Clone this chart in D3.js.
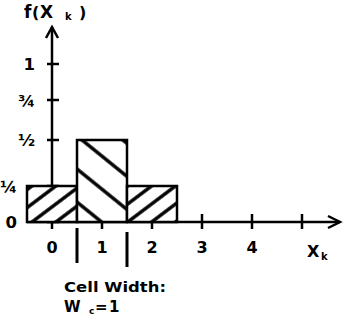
<!DOCTYPE html>
<html>
<head>
<meta charset="utf-8">
<script src="https://cdn.jsdelivr.net/npm/d3@7"></script>
<style>
  html, body { margin: 0; padding: 0; background: #fff; }
  svg { display: block; }
  text { font-family: "DejaVu Sans", Arial, sans-serif; font-weight: bold; fill: #000; }
</style>
</head>
<body>
<svg id="chart" width="345" height="317"></svg>
<script>
// 셀 확률 — 막대 3개(폭 1), 해칭 방향
var cells = [0, 1, 2];
var probs = [0.25, 0.5, 0.25];
var hatch = ["fwd", "back", "fwd"];
var cellWidth = 1;
var cellEdges = [0.5, 1.5];
// 눈금
var xTicks = [0, 1, 2, 3, 4, 5];
var xTickLabels = ["0", "1", "2", "3", "4", ""];
var yTicks = [0, 0.25, 0.5, 0.75, 1];
var yTickLabels = ["0", "\u00bc", "\u00bd", "\u00be", "1"];

(function () {
  "use strict";
  var svg = d3.select("#chart");
  var STROKE = 2.5;

  var x = d3.scaleLinear().domain([0, 5]).range([52, 302]);
  // 손으로 그린 세로축 간격을 그대로 따름(구간별 선형)
  var y = d3.scaleLinear().domain(yTicks).range([222, 186, 140, 100, 64]);

  var defs = svg.append("defs");
  function makePattern(id, angle, spacing, ax, ay) {
    var p = defs.append("pattern").attr("id", id)
      .attr("patternUnits", "userSpaceOnUse")
      .attr("width", spacing).attr("height", spacing)
      .attr("patternTransform", "translate(" + ax + "," + ay + ") rotate(" + angle + ")");
    p.append("rect").attr("width", spacing).attr("height", spacing).attr("fill", "#fff");
    [0, spacing].forEach(function (xx) {
      p.append("line").attr("x1", xx).attr("x2", xx).attr("y1", 0).attr("y2", spacing)
        .attr("stroke", "#000").attr("stroke-width", 3.4);
    });
  }
  makePattern("fwd", 53, 14.4, x(-cellWidth / 2) + 5, y(0));
  makePattern("back", -51, 25.7, x(cellWidth / 2), y(0) - 53);

  var x0 = x(0), y0 = y(0);
  var xLeft = x(-cellWidth / 2), xTip = x(5) + 38, yTip = y(1) - 37;

  // 축
  var axes = svg.append("g").attr("stroke", "#000").attr("stroke-width", STROKE).attr("fill", "none");
  axes.append("line").attr("x1", x0).attr("x2", x0).attr("y1", y0).attr("y2", yTip);
  axes.append("polyline").attr("points", [[x0 - 6, yTip + 11], [x0, yTip], [x0 + 6, yTip + 11]].join(" "));
  axes.append("line").attr("x1", xLeft).attr("x2", xTip).attr("y1", y0).attr("y2", y0);
  axes.append("polyline").attr("points", [[xTip - 12, y0 - 6], [xTip, y0], [xTip - 12, y0 + 6]].join(" "));

  // 눈금 표시(축을 가로지름)
  axes.selectAll("line.yt").data(yTicks).enter().append("line").attr("class", "yt")
    .attr("x1", x0 - 5).attr("x2", x0 + 7)
    .attr("y1", function (d) { return y(d); }).attr("y2", function (d) { return y(d); });
  axes.selectAll("line.xt").data(xTicks).enter().append("line").attr("class", "xt")
    .attr("y1", y0 - 8).attr("y2", y0 + 7)
    .attr("x1", function (d) { return x(d); }).attr("x2", function (d) { return x(d); });

  // 막대
  svg.append("g").selectAll("rect").data(cells).enter().append("rect")
    .attr("x", function (d) { return x(d - cellWidth / 2); })
    .attr("width", x(cellWidth) - x(0))
    .attr("y", function (d, i) { return y(probs[i]); })
    .attr("height", function (d, i) { return y0 - y(probs[i]); })
    .attr("fill", function (d, i) { return "url(#" + hatch[i] + ")"; })
    .attr("stroke", "#000").attr("stroke-width", STROKE);

  // 셀 경계 표시
  svg.append("g").selectAll("line").data(cellEdges).enter().append("line")
    .attr("x1", function (d) { return x(d); }).attr("x2", function (d) { return x(d); })
    .attr("y1", function (d, i) { return y0 + 6 + i * 4; }).attr("y2", function (d, i) { return y0 + 41 + i * 4; })
    .attr("stroke", "#000").attr("stroke-width", 3);

  // 눈금 글자
  svg.append("g").selectAll("text").data(xTicks).enter().append("text")
    .attr("x", function (d) { return x(d); }).attr("y", 253)
    .attr("text-anchor", "middle").attr("font-size", 16)
    .text(function (d, i) { return xTickLabels[i]; });
  svg.append("g").selectAll("text").data(yTicks).enter().append("text")
    .attr("x", function (d) { return d > probs[0] ? x0 - 17 : xLeft - 10; })
    .attr("y", function (d) { return y(d); }).attr("dy", "0.36em")
    .attr("text-anchor", "end").attr("font-size", 16.5)
    .text(function (d, i) { return yTickLabels[i]; });

  // 축 제목
  function label(tx, ty, size, str) {
    svg.append("text").attr("x", tx).attr("y", ty).attr("font-size", size).text(str);
  }
  label(24, 18, 17, "f");
  label(32, 18, 16, "(");
  label(40, 18, 17, "X");
  label(65, 20, 10, "k");
  label(79, 18, 16, ")");
  label(307, 257, 16, "X");
  label(321, 260, 10, "k");

  svg.append("text").attr("x", 64).attr("y", 292).attr("font-size", 14.5)
    .attr("textLength", 102).attr("lengthAdjust", "spacingAndGlyphs").text("Cell Width:");
  label(64, 312, 15, "W");
  label(89, 314, 9, "c");
  label(95, 312, 15, "=");
  label(109, 312, 15, String(cellWidth));
})();
</script>
</body>
</html>
